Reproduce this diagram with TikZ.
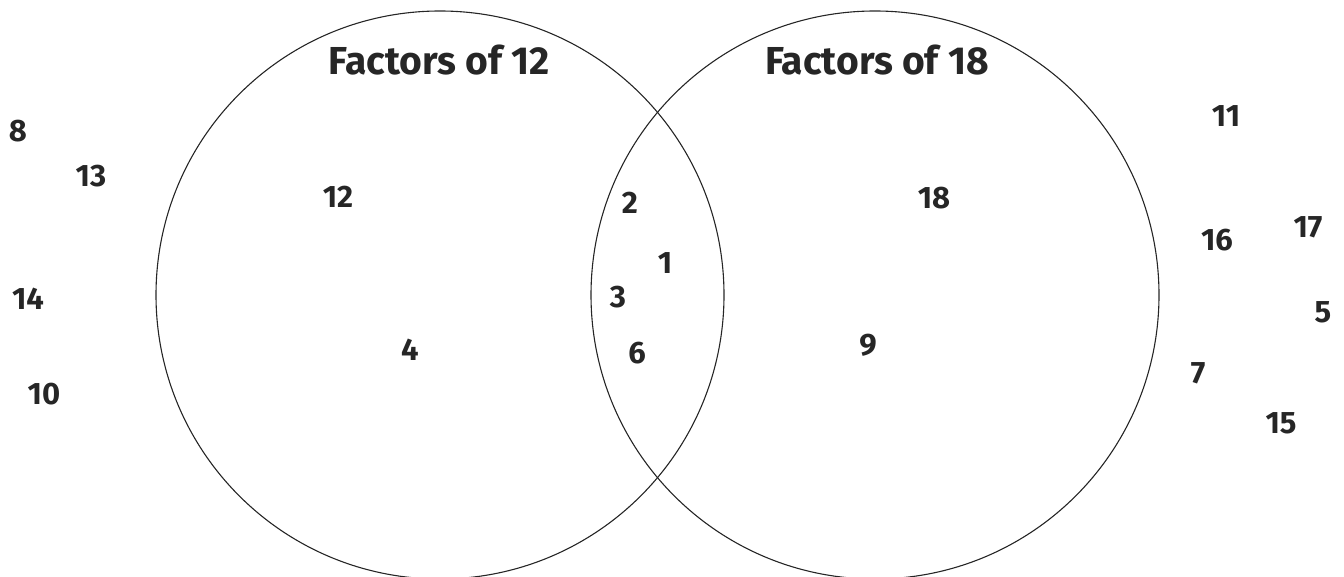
\documentclass[tikz,border=0pt]{standalone}
\usepackage{fontspec}
\setmainfont{Fira Sans}
\definecolor{ink}{HTML}{262626}
\begin{document}
\begin{tikzpicture}[x=1pt,y=-1pt,
  setring/.style={circle, draw=ink, line width=1.1pt, minimum size=568pt, inner sep=0pt},
  num/.style={inner sep=0pt, text=ink, font=\fontsize{31}{31}\selectfont\bfseries},
  ttl/.style={inner sep=0pt, anchor=base, text=ink, font=\fontsize{39}{39}\selectfont\bfseries}]
\useasboundingbox (0,0) rectangle (1344,577);
\clip (0,0) rectangle (1344,577);
\node[setring] (L) at (440,295) {};
\node[setring] (R) at (875,295) {};
\node[ttl] (tL) at (439,75) {Factors of 12};
\node[ttl] (tR) at (877,75) {Factors of 18};
% outside left
\node[num] (n8) at (18,131) {8};
\node[num] (n13) at (91,176) {13};
\node[num] (n14) at (28,299) {14};
\node[num] (n10) at (44,394) {10};
% left only
\node[num] (n12) at (338,197) {12};
\node[num] (n4) at (410,350) {4};
% intersection
\node[num] (n2) at (630,203) {2};
\node[num] (n1) at (665,263) {1};
\node[num] (n3) at (618,297) {3};
\node[num] (n6) at (637,353) {6};
% right only
\node[num] (n18) at (934,198) {18};
\node[num] (n9) at (868,345) {9};
% outside right
\node[num] (n11) at (1226,116) {11};
\node[num] (n16) at (1217,240) {16};
\node[num] (n17) at (1308,227) {17};
\node[num] (n5) at (1323,312) {5};
\node[num] (n7) at (1198,373) {7};
\node[num] (n15) at (1281,423) {15};
\end{tikzpicture}
\end{document}
